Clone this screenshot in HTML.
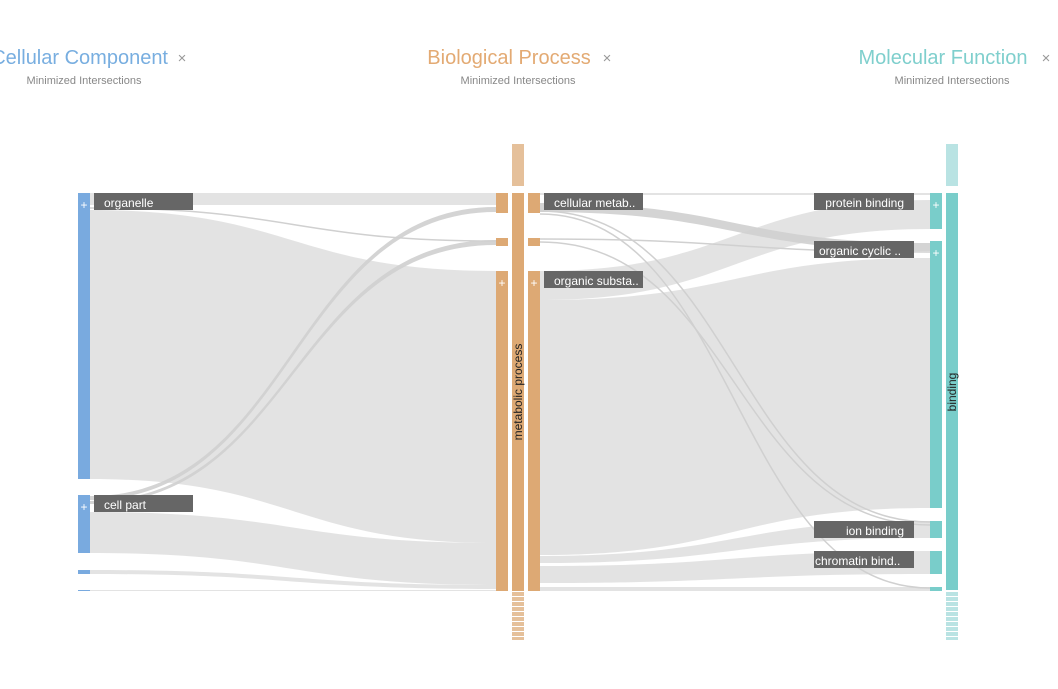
<!DOCTYPE html>
<html><head><meta charset="utf-8"><style>
html,body{margin:0;padding:0;background:#fff;width:1058px;height:689px;overflow:hidden;font-family:"Liberation Sans",sans-serif;}
</style></head><body>
<svg width="1058" height="689" viewBox="0 0 1058 689" xmlns="http://www.w3.org/2000/svg" font-family="Liberation Sans, sans-serif">
<defs>
<pattern id="so" x="0" y="592" width="12" height="5" patternUnits="userSpaceOnUse"><rect width="12" height="4" fill="#e5c09a"/></pattern>
<pattern id="st" x="0" y="592" width="12" height="5" patternUnits="userSpaceOnUse"><rect width="12" height="4" fill="#b9e3e3"/></pattern>
</defs>
<!-- headers -->
<text x="168" y="64" font-size="20" fill="#78aee0" text-anchor="end">Cellular Component</text>
<text x="182" y="63" font-size="15" fill="#999" text-anchor="middle">×</text>
<text x="84" y="84" font-size="11" fill="#888" text-anchor="middle">Minimized Intersections</text>
<text x="509" y="64" font-size="20" fill="#e3aa73" text-anchor="middle">Biological Process</text>
<text x="607" y="63" font-size="15" fill="#999" text-anchor="middle">×</text>
<text x="518" y="84" font-size="11" fill="#888" text-anchor="middle">Minimized Intersections</text>
<text x="943" y="64" font-size="20" fill="#7fcfcd" text-anchor="middle">Molecular Function</text>
<text x="1046" y="63" font-size="15" fill="#999" text-anchor="middle">×</text>
<text x="952" y="84" font-size="11" fill="#888" text-anchor="middle">Minimized Intersections</text>

<g fill="#e2e2e2" fill-opacity="0.95">
<!-- left flows (90 -> 496), mid 293 -->
<path d="M90 193 C293 193 293 193 496 193 L496 205 C293 205 293 205 90 205Z"/>
<path d="M90 210 C293 210 293 271 496 271 L496 543 C293 543 293 479 90 479Z"/>
<path d="M90 512 C293 512 293 543 496 543 L496 585 C293 585 293 553 90 553Z"/>
<path d="M90 570 C293 570 293 585 496 585 L496 589 C293 589 293 574 90 574Z"/>
<path d="M90 590 C293 590 293 590 496 590 L496 591 C293 591 293 591 90 591Z"/>
<!-- right flows (540 -> 930), mid 735 -->
<path d="M540 193 C735 193 735 193 930 193 L930 195 C735 195 735 195 540 195Z"/>
<path d="M540 271 C735 271 735 200 930 200 L930 229 C735 229 735 300 540 300Z"/>
<path d="M540 300 C735 300 735 258 930 258 L930 508 C735 508 735 555 540 555Z"/>
<path d="M540 556 C735 556 735 521 930 521 L930 538 C735 538 735 563 540 563Z"/>
<path d="M540 566 C735 566 735 551 930 551 L930 574 C735 574 735 583 540 583Z"/>
<path d="M540 587 C735 587 735 587 930 587 L930 591 C735 591 735 591 540 591Z"/>
</g>
<g fill="#cfcfcf" fill-opacity="0.9">
<path d="M540 203 C735 203 735 243 930 243 L930 251 C735 251 735 212 540 212Z"/>
<path d="M90 496 C293 496 293 207 496 207 L496 212 C293 212 293 500 90 500Z"/>
<path d="M90 501 C293 501 293 240 496 240 L496 245 C293 245 293 504 90 504Z"/>
</g>
<g fill="none" stroke="#d0d0d0" stroke-width="1.5">
<path d="M90 208 C293 208 293 241 496 241"/>
<path d="M540 239 C735 239 735 252 930 252"/>
<path d="M540 211 C735 211 735 522 930 522"/>
<path d="M540 214 C735 214 735 588 930 588"/>
<path d="M540 242 C735 242 735 525 930 525"/>
</g>

<!-- left nodes -->
<g fill="#79aadf">
<rect x="78" y="193" width="12" height="286"/>
<rect x="78" y="495" width="12" height="58"/>
<rect x="78" y="570" width="12" height="4"/>
<rect x="78" y="590" width="12" height="1"/>
</g>
<!-- middle -->
<g fill="#dda974">
<rect x="496" y="193" width="12" height="20"/>
<rect x="496" y="238" width="12" height="8"/>
<rect x="496" y="271" width="12" height="320"/>
<rect x="512" y="193" width="12" height="398"/>
<rect x="528" y="193" width="12" height="20"/>
<rect x="528" y="238" width="12" height="8"/>
<rect x="528" y="271" width="12" height="320"/>
</g>
<rect x="512" y="144" width="12" height="42" fill="#e5c09a"/>
<rect x="512" y="592" width="12" height="48" fill="url(#so)"/>
<!-- right -->
<g fill="#79cdca">
<rect x="930" y="193" width="12" height="36"/>
<rect x="930" y="241" width="12" height="267"/>
<rect x="930" y="521" width="12" height="17"/>
<rect x="930" y="551" width="12" height="23"/>
<rect x="930" y="587" width="12" height="4"/>
<rect x="946" y="193" width="12" height="397"/>
</g>
<rect x="946" y="144" width="12" height="42" fill="#b9e3e3"/>
<rect x="946" y="592" width="12" height="48" fill="url(#st)"/>

<!-- plus signs -->
<g fill="#fff" font-size="12" text-anchor="middle">
<text x="84" y="209">+</text><text x="84" y="511">+</text>
<text x="502" y="287">+</text><text x="534" y="287">+</text>
<text x="936" y="209">+</text><text x="936" y="257">+</text>
</g>

<!-- labels -->
<g fill="#666">
<rect x="94" y="193" width="99" height="17"/><rect x="94" y="495" width="99" height="17"/>
<rect x="544" y="193" width="99" height="17"/><rect x="544" y="271" width="99" height="17"/>
<rect x="814" y="193" width="100" height="17"/><rect x="814" y="241" width="100" height="17"/>
<rect x="814" y="521" width="100" height="17"/><rect x="814" y="551" width="100" height="17"/>
</g>
<g fill="#fff" font-size="12">
<text x="104" y="207">organelle</text>
<text x="104" y="509">cell part</text>
<text x="554" y="207">cellular metab..</text>
<text x="554" y="285">organic substa..</text>
<text x="904" y="207" text-anchor="end">protein binding</text>
<text x="819" y="255">organic cyclic ..</text>
<text x="904" y="535" text-anchor="end">ion binding</text>
<text x="815" y="565">chromatin bind..</text>
</g>
<text transform="translate(522,392) rotate(-90)" font-size="12" fill="#222" text-anchor="middle">metabolic process</text>
<text transform="translate(956,392) rotate(-90)" font-size="12" fill="#222" text-anchor="middle">binding</text>
</svg>
</body></html>
